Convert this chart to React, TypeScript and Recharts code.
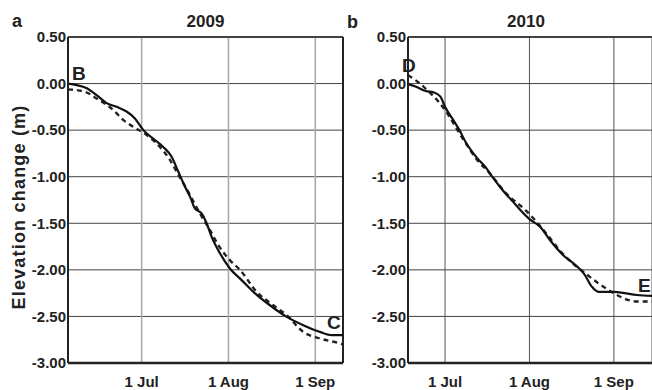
import React from "react";
import { LineChart, Line, XAxis, YAxis, CartesianGrid, ReferenceLine } from "recharts";

// days counted from 1 Jul
const tickDays = [0, 31, 62];
const tickLabels = ["1 Jul", "1 Aug", "1 Sep"];
const yTicks = [-3, -2.5, -2, -1.5, -1, -0.5, 0, 0.5];

// 2009 (B -> C)
const a09SolidDays = [-26.3, -23.2, -19.6, -16.1, -12.5, -8.9, -5.4, -2.4, 0.6, 4.1, 7.7, 10.7, 13.1, 15.5, 17.3, 19, 21.4, 23.2, 25, 28, 31.5, 35.7, 39.9, 45.8, 51.8, 57.7, 63.7, 67.9, 71.9];
const a09SolidVals = [0, -0.016, -0.05, -0.124, -0.21, -0.25, -0.3, -0.374, -0.5, -0.59, -0.68, -0.786, -0.947, -1.108, -1.216, -1.34, -1.394, -1.5, -1.646, -1.824, -1.985, -2.11, -2.236, -2.38, -2.505, -2.594, -2.666, -2.7, -2.7];
const a09DashDays = [-26.3, -20.3, -16.1, -10.1, -6.6, -3, 1.8, 6.5, 10.1, 12.5, 16.6, 20.8, 24.4, 27.4, 31.5, 35.1, 41.1, 47, 51.8, 57.7, 63.7, 70.8, 71.9];
const a09DashVals = [-0.062, -0.088, -0.16, -0.285, -0.39, -0.464, -0.553, -0.68, -0.82, -0.947, -1.16, -1.394, -1.574, -1.735, -1.896, -2.0, -2.236, -2.38, -2.487, -2.666, -2.737, -2.79, -2.8];

// 2010 (D -> E)
const b10SolidDays = [-13.6, -10.6, -7.1, -4.1, -1.7, 0, 3, 5.3, 7.5, 9.5, 11.8, 14.8, 17.8, 20.2, 22.5, 25, 27.4, 30.8, 35, 38.5, 43.3, 48, 51, 53.9, 56.3, 62.2, 65.8, 70.5, 76];
const b10SolidVals = [-0.005, -0.034, -0.08, -0.095, -0.14, -0.25, -0.39, -0.5, -0.625, -0.714, -0.8, -0.894, -1.018, -1.11, -1.19, -1.27, -1.35, -1.45, -1.54, -1.68, -1.84, -1.95, -2.04, -2.18, -2.236, -2.236, -2.25, -2.27, -2.28];
const b10DashDays = [-13.6, -10.1, -5.9, -2.9, 0, 6.5, 11.8, 15.9, 22.5, 30.2, 36.2, 42.1, 46.9, 51.6, 56.4, 61.1, 65.8, 70.5, 76];
const b10DashVals = [0.09, 0.02, -0.088, -0.177, -0.285, -0.59, -0.82, -0.947, -1.18, -1.377, -1.574, -1.79, -1.93, -2.04, -2.146, -2.236, -2.307, -2.34, -2.34];

const toPoints = (days: number[], vals: number[]) => days.map((d, i) => ({ d, v: vals[i] }));

const FONT = "'Liberation Sans', Arial, sans-serif";
const tickStyle = { fill: "#222", fontSize: 15, fontWeight: 700, fontFamily: FONT };

interface PanelProps {
  solid: { d: number; v: number }[];
  dashed: { d: number; v: number }[];
  domain: [number, number];
  width: number;
  vGrid: string;
  vGridWidth: number;
  rightBorder: boolean;
}

function Panel({ solid, dashed, domain, width, vGrid, vGridWidth, rightBorder }: PanelProps) {
  return (
    <LineChart width={width} height={390} margin={{ top: 37, right: rightBorder ? 2 : 0, left: 8, bottom: 0 }}>
      <CartesianGrid vertical={false} stroke="#444" strokeWidth={1} />
      <CartesianGrid horizontal={false} stroke={vGrid} strokeWidth={vGridWidth} />
      <XAxis
        type="number"
        dataKey="d"
        domain={domain}
        allowDataOverflow
        ticks={tickDays}
        tickFormatter={(d: number) => tickLabels[tickDays.indexOf(d)]}
        tickLine={false}
        tickSize={0}
        tickMargin={13}
        height={27}
        axisLine={{ stroke: "#222", strokeWidth: 2.5 }}
        tick={tickStyle}
      />
      <YAxis
        type="number"
        domain={[-3, 0.5]}
        ticks={yTicks}
        tickFormatter={(v: number) => v.toFixed(2)}
        tickLine={false}
        tickSize={0}
        tickMargin={2}
        width={60}
        axisLine={{ stroke: "#222", strokeWidth: 2 }}
        tick={tickStyle}
      />
      <ReferenceLine y={0.5} stroke="#222" strokeWidth={1.5} />
      {rightBorder && <ReferenceLine x={domain[1]} stroke="#222" strokeWidth={2} />}
      <Line data={dashed} dataKey="v" type="monotone" stroke="#222" strokeWidth={2.4} strokeDasharray="5 4" dot={false} isAnimationActive={false} />
      <Line data={solid} dataKey="v" type="monotone" stroke="#111" strokeWidth={2.2} dot={false} isAnimationActive={false} />
    </LineChart>
  );
}

export default function App() {
  const txt = { fontFamily: FONT, fontWeight: 700, fill: "#222" };
  return (
    <div style={{ position: "absolute", left: 0, top: 0, width: 652, height: 390, overflow: "hidden", background: "#fff" }}>
      <div style={{ position: "absolute", left: 0, top: 0 }}>
        <Panel solid={toPoints(a09SolidDays, a09SolidVals)} dashed={toPoints(a09DashDays, a09DashVals)} domain={[-26.3, 71.9]} width={345} vGrid="#aaa" vGridWidth={1.6} rightBorder />
      </div>
      <div style={{ position: "absolute", left: 340, top: 0 }}>
        <Panel solid={toPoints(b10SolidDays, b10SolidVals)} dashed={toPoints(b10DashDays, b10DashVals)} domain={[-13.6, 76]} width={312} vGrid="#555" vGridWidth={1} rightBorder={false} />
      </div>
      <svg width={652} height={390} style={{ position: "absolute", left: 0, top: 0, pointerEvents: "none" }}>
        <text x={12} y={27} fontSize={18} {...txt}>a</text>
        <text x={347} y={28} fontSize={18} {...txt}>b</text>
        <text x={205.5} y={27} fontSize={17} textAnchor="middle" {...txt}>2009</text>
        <text x={526} y={27} fontSize={17} textAnchor="middle" {...txt}>2010</text>
        <text x={72} y={80} fontSize={19} {...txt}>B</text>
        <text x={327} y={329} fontSize={19} {...txt}>C</text>
        <text x={402} y={72} fontSize={19} {...txt}>D</text>
        <text x={638} y={292} fontSize={19} {...txt}>E</text>
        <text transform="translate(25, 207) rotate(-90)" fontSize={18} letterSpacing={1.2} textAnchor="middle" {...txt}>Elevation change (m)</text>
      </svg>
    </div>
  );
}
